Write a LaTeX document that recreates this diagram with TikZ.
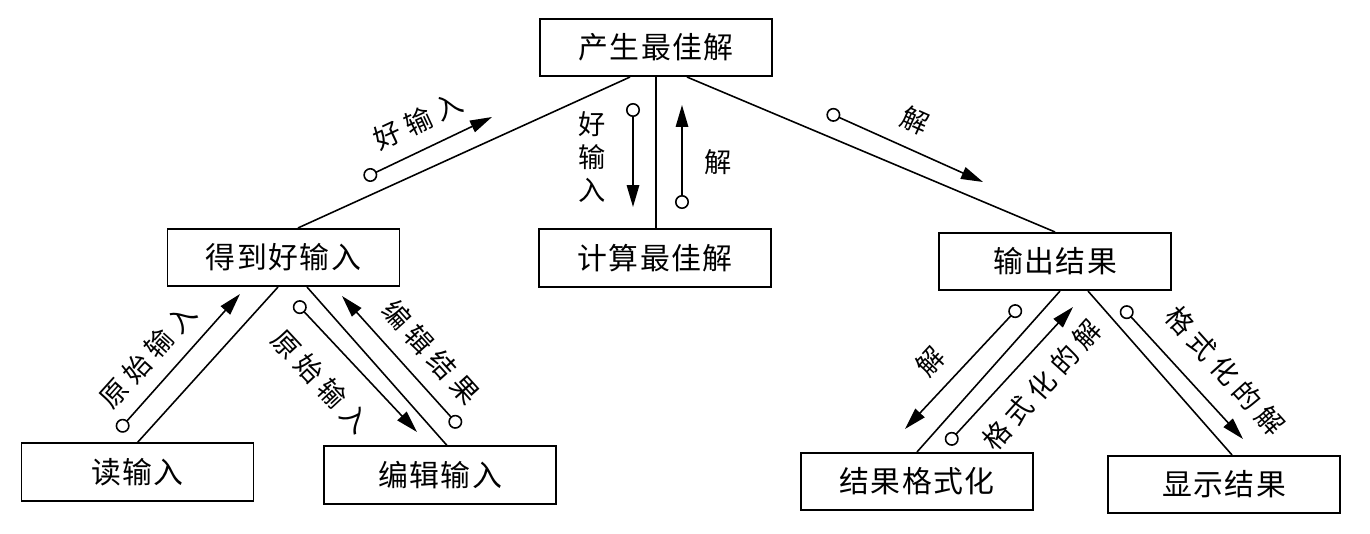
\documentclass[tikz,border=0pt]{standalone}
\usepackage{fontspec}
\newfontfamily\cjk[LetterSpace=5]{Noto Sans CJK SC}
\newfontfamily\cjklbl[LetterSpace=24]{Noto Sans CJK SC}
\usetikzlibrary{arrows.meta}

\begin{document}
\begin{tikzpicture}[x=0.02cm,y=-0.02cm,
        box/.style={draw,line width=0.9pt,minimum width=4.64cm,minimum height=1.15cm,inner sep=0pt,font=\cjk\fontsize{17}{20}\selectfont},
        flow/.style={line width=0.9pt},
        couple/.style={line width=0.9pt,arrows={Circle[open,length=0.28cm]-Triangle[length=0.44cm,width=0.25cm]}},
        lbl/.style={inner sep=0pt,font=\cjklbl\fontsize{15.5}{18.8}\selectfont}]

    \useasboundingbox (0,0) rectangle (1370,534);

    % modules
    \node[box] (best) at (656,47.5) {产生最佳解};
    \node[box] (good) at (283.5,257.5) {得到好输入};
    \node[box] (calc) at (655,258) {计算最佳解};
    \node[box] (outp) at (1055,261.5) {输出结果};
    \node[box] (read) at (137.5,472) {读输入};
    \node[box] (edit) at (440,475) {编辑输入};
    \node[box] (fmt) at (917,481.5) {结果格式化};
    \node[box] (show) at (1224,484.5) {显示结果};

    % calls
    \draw[flow] ([xshift=-0.52cm]best.south) -- ([xshift=0.29cm]good.north);
    \draw[flow] (best.south) -- (best.south |- calc.north);
    \draw[flow] ([xshift=0.62cm]best.south) -- (outp.north);
    \draw[flow] ([xshift=-0.11cm]good.south) -- (read.north);
    \draw[flow] ([xshift=0.47cm]good.south) -- ([xshift=0.14cm]edit.north);
    \draw[flow] ([xshift=0.1cm]outp.south) -- (fmt.north);
    \draw[flow] ([xshift=0.66cm]outp.south) -- ([xshift=0.16cm]show.north);

    % data couples
    \coordinate (gu1) at (364,178);  \coordinate (gu2) at (492,117);
    \coordinate (gd1) at (633,103);  \coordinate (gd2) at (633,207);
    \coordinate (su1) at (682,209);  \coordinate (su2) at (682,105);
    \coordinate (so1) at (827,112);  \coordinate (so2) at (983,182);
    \coordinate (rr1) at (118,431);  \coordinate (rr2) at (240,294);
    \coordinate (re1) at (295,302);  \coordinate (re2) at (417,432);
    \coordinate (ed1) at (460,427);  \coordinate (ed2) at (342,296);
    \coordinate (sf1) at (1020,306); \coordinate (sf2) at (905,429);
    \coordinate (fu1) at (947,444);  \coordinate (fu2) at (1073,307);
    \coordinate (fs1) at (1122,307); \coordinate (fs2) at (1243,439);

    \draw[couple] (gu1) -- (gu2);
    \draw[couple] (gd1) -- (gd2);
    \draw[couple] (su1) -- (su2);
    \draw[couple] (so1) -- (so2);
    \draw[couple] (rr1) -- (rr2);
    \draw[couple] (re1) -- (re2);
    \draw[couple] (ed1) -- (ed2);
    \draw[couple] (sf1) -- (sf2);
    \draw[couple] (fu1) -- (fu2);
    \draw[couple] (fs1) -- (fs2);

    \node[lbl,rotate=25] (lgu) at (418,121) {好输入};
    \node[lbl,align=center,font=\cjk\fontsize{15.5}{18.8}\selectfont] (lgd) at (592,157) {好\\输\\入};
    \node[lbl] (lsu) at (718,162) {解};
    \node[lbl,rotate=-24] (lso) at (915,121) {解};
    \node[lbl,rotate=48] (lrr) at (148,356) {原始输入};
    \node[lbl,rotate=-47] (lre) at (321,381) {原始输入};
    \node[lbl,rotate=-48] (led) at (431,352) {编辑结果};
    \node[lbl,rotate=47] (lsf) at (930,361) {解};
    \node[lbl,rotate=48] (lfu) at (1042,385) {格式化的解};
    \node[lbl,rotate=-48] (lfs) at (1225,371) {格式化的解};
\end{tikzpicture}
\end{document}
